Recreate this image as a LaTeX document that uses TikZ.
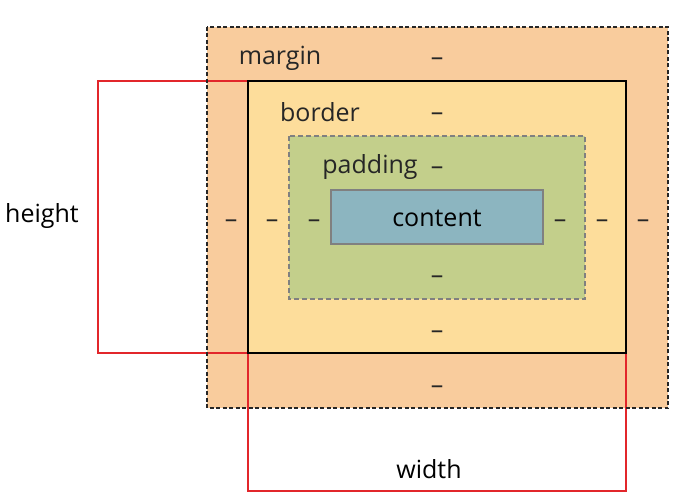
\documentclass[tikz,border=0pt]{standalone}
\usepackage{fontspec}
\setmainfont{Open Sans}
\definecolor{marginc}{HTML}{F9CC9D}
\definecolor{borderc}{HTML}{FDDD9B}
\definecolor{paddingc}{HTML}{C3CF8B}
\definecolor{contentc}{HTML}{8CB5C0}
\definecolor{txt}{HTML}{262626}
\definecolor{redc}{HTML}{E2262B}
\begin{document}
\begin{tikzpicture}[x=1pt,y=-1pt,
  lbl/.style={font=\fontsize{25}{28}\selectfont, text=txt, inner sep=0pt, anchor=center},
  dsh/.style={lbl}]
\useasboundingbox (0,0) rectangle (690,500);
% boxes
\fill[marginc] (207,27) rectangle (668,408);
\fill[borderc] (248,81) rectangle (626,353);
\fill[paddingc] (289,136) rectangle (585,299);
\fill[contentc] (331,190) rectangle (543,244);
% red outlines
\draw[redc, line width=2.5pt] (248,81) -- (98,81) -- (98,353) -- (248,353);
\draw[redc, line width=2.5pt] (248,353) -- (248,491) -- (626,491) -- (626,353);
% borders
\draw[black!85, line width=2.5pt, dash pattern=on 4pt off 2.5pt] (207,27) rectangle (668,408);
\draw[black, line width=2.5pt] (248,81) rectangle (626,353);
\draw[gray, line width=2.5pt, dash pattern=on 5pt off 3pt] (289,136) rectangle (585,299);
\draw[gray, line width=2.5pt] (331,190) rectangle (543,244);
% labels
\node[lbl] (margin) at (280,58) {margin};
\node[lbl] (border) at (320,112) {border};
\node[lbl] (padding) at (370,167) {padding};
\node[lbl, text=black] (content) at (437,218) {content};
\node[dsh] (mt) at (437,62) {–};
\node[dsh] (bt) at (437,117) {–};
\node[dsh] (pt) at (437,171) {–};
\node[dsh] (pb) at (437,280) {–};
\node[dsh] (bb) at (437,335) {–};
\node[dsh] (mb) at (437,390) {–};
\node[dsh] (ml) at (231,224) {–};
\node[dsh] (bl) at (272,224) {–};
\node[dsh] (pl) at (314,224) {–};
\node[dsh] (pr) at (560,224) {–};
\node[dsh] (br) at (602,224) {–};
\node[dsh] (mr) at (643,224) {–};
\node[lbl, text=black] (height) at (42,216) {height};
\node[lbl, text=black] (width) at (429,469) {width};
\end{tikzpicture}
\end{document}
